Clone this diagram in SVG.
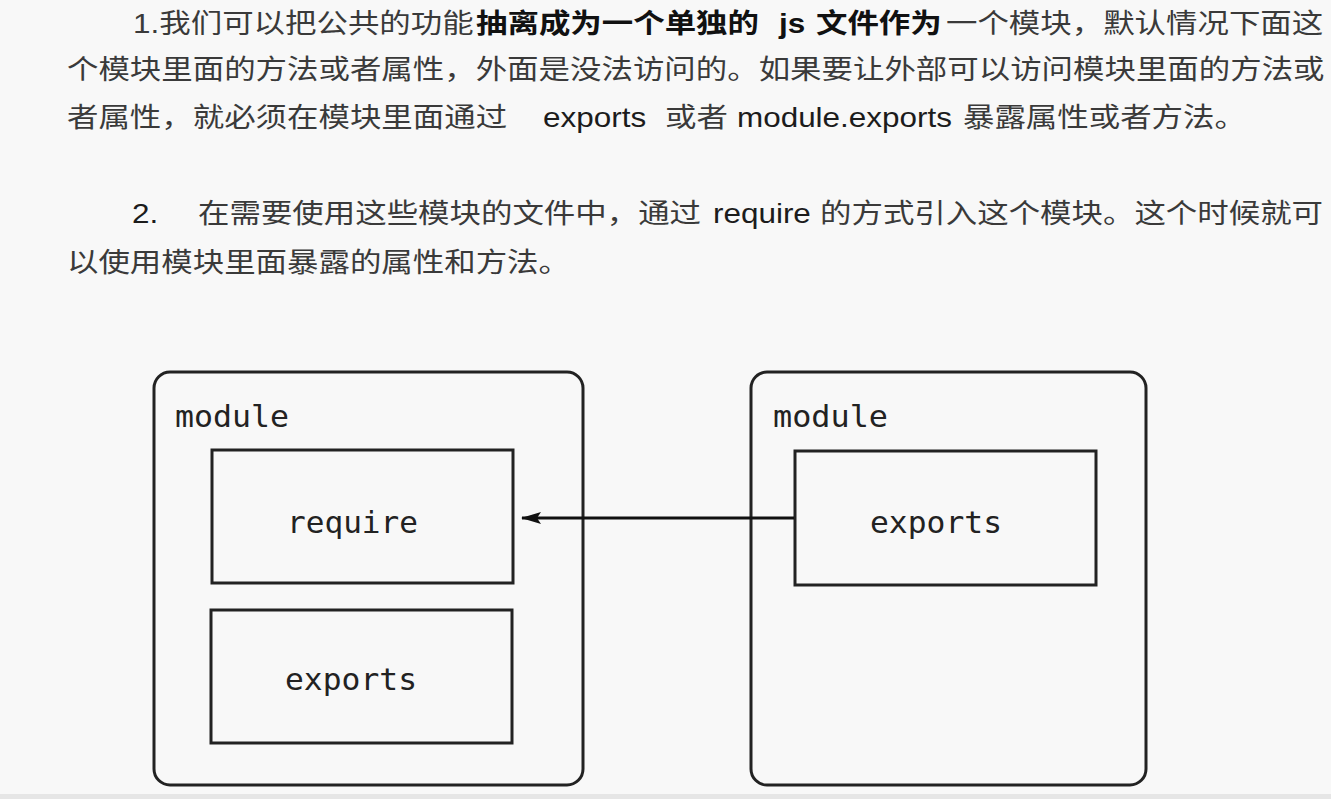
<svg xmlns="http://www.w3.org/2000/svg" width="1331" height="799" viewBox="0 0 1331 799">
<style>
.p{font-family:"Liberation Sans","Noto Sans CJK SC",sans-serif;font-size:27px;fill:#3a3a3a}
.b{font-weight:bold;fill:#111}
.l{fill:#1c1c1c}
.box{fill:none;stroke:#222;stroke-width:3}
.mono{font-family:"DejaVu Sans Mono","Liberation Mono",monospace;font-size:30px;fill:#222}
.conn{stroke:#111;stroke-width:3;fill:none}
</style>
<defs>
<marker id="ah" viewBox="0 0 20 12" refX="19" refY="6" markerWidth="20" markerHeight="12" markerUnits="userSpaceOnUse" orient="auto">
<path d="M0,0 L20,6 L0,12 L4,6 Z" fill="#111"/>
</marker>
</defs>
<rect x="0" y="0" width="1331" height="799" fill="#f8f8f8"/>
<rect x="0" y="794" width="1331" height="5" fill="#e6e6e6"/>
<g id="paragraphs" transform="scale(1.165,1)">
<text class="p" y="33"><tspan x="114.2">1.我们可以把公共的功能</tspan><tspan class="b" x="408.6">抽离成为一个单独的 </tspan><tspan class="b" x="668.7">js </tspan><tspan class="b" x="700.4">文件作为</tspan><tspan x="812">一个模块，默认情况下面这</tspan></text>
<text class="p" y="79"><tspan x="57.5">个模块里面的方法或者属性，外面是没法访问的。如果要让外部可以访问模块里面的方法或</tspan></text>
<text class="p" y="127"><tspan x="57.5">者属性，就必须在模块里面通过 </tspan><tspan class="l" x="466.1">exports </tspan><tspan x="570.8">或者 </tspan><tspan class="l" x="632.6">module.exports </tspan><tspan x="826.6">暴露属性或者方法。</tspan></text>
<text class="p" y="223"><tspan class="l" x="113.3">2. </tspan><tspan x="170">在需要使用这些模块的文件中，通过 </tspan><tspan class="l" x="612">require </tspan><tspan x="703.9">的方式引入这个模块。这个时候就可</tspan></text>
<text class="p" y="272"><tspan x="57.5">以使用模块里面暴露的属性和方法。</tspan></text>
</g>
<g id="module-left">
<rect class="box" x="154" y="372" width="429" height="413" rx="16"/>
<text class="mono" x="175" y="427" textLength="114" lengthAdjust="spacingAndGlyphs">module</text>
</g>
<g id="require-box">
<rect class="box" x="212" y="450" width="301" height="133"/>
<text class="mono" x="287" y="533" textLength="131" lengthAdjust="spacingAndGlyphs">require</text>
</g>
<g id="exports-left">
<rect class="box" x="211" y="610" width="301" height="133"/>
<text class="mono" x="285" y="690" textLength="132" lengthAdjust="spacingAndGlyphs">exports</text>
</g>
<g id="module-right">
<rect class="box" x="751" y="372" width="395" height="413" rx="16"/>
<text class="mono" x="773" y="427" textLength="115" lengthAdjust="spacingAndGlyphs">module</text>
</g>
<g id="exports-right">
<rect class="box" x="795" y="451" width="301" height="134"/>
<text class="mono" x="870" y="533" textLength="132" lengthAdjust="spacingAndGlyphs">exports</text>
</g>
<g id="connectors">
<line class="conn" x1="794" y1="518" x2="522" y2="518" marker-end="url(#ah)"/>
</g>
</svg>
